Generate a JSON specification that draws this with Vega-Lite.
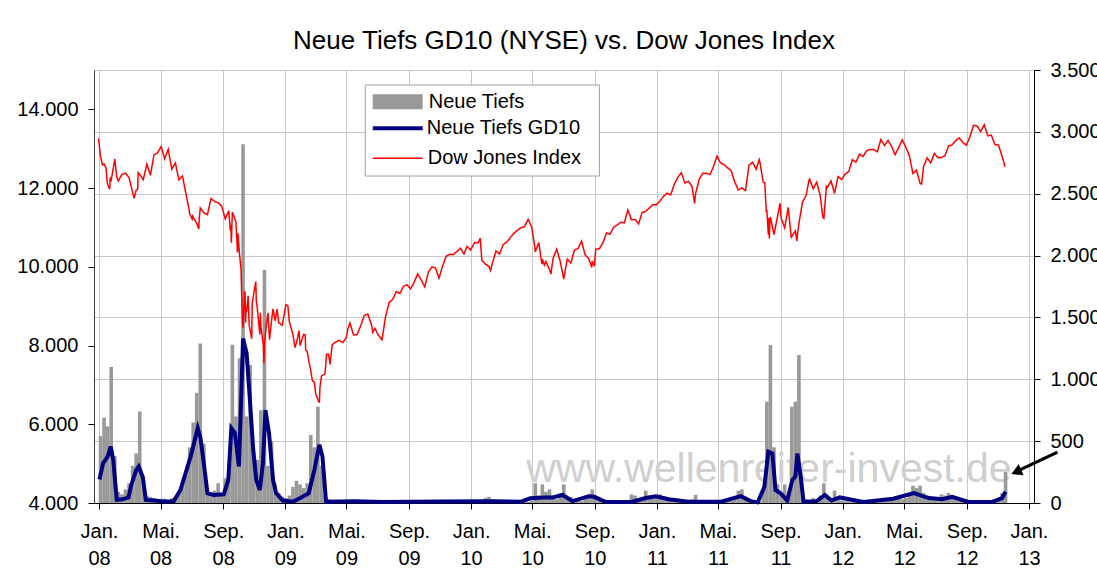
{
  "$schema": "https://vega.github.io/schema/vega-lite/v6.json",
  "width": 940,
  "height": 433,
  "autosize": {"type": "none"},
  "padding": {"left": 94, "top": 70, "right": 63, "bottom": 75},
  "background": "white",
  "title": {"text": "Neue Tiefs GD10 (NYSE) vs. Dow Jones Index", "font": "Liberation Sans", "fontSize": 26, "fontWeight": "normal", "color": "#000000", "offset": 6, "anchor": "middle"},
  "config": {
    "font": "Liberation Sans",
    "view": {"stroke": "#a0a0a0", "strokeWidth": 1},
    "axis": {"labelFont": "Liberation Sans", "labelFontSize": 20, "labelColor": "#000000", "tickColor": "#000000", "domainColor": "#000000", "tickSize": 6, "labelPadding": 10, "gridColor": "#c8c8c8", "gridWidth": 1, "title": null, "labelFlush": false, "labelOverlap": false},
    "legend": {"orient": "none", "title": null, "labelFont": "Liberation Sans", "labelFontSize": 20, "labelColor": "#000000", "labelLimit": 300, "padding": 0, "symbolOpacity": 1, "symbolSize": 400}
  },
  "datasets": {
    "lows": [
      {"date": "2008-01-04", "value": 540}, {"date": "2008-01-11", "value": 690}, {"date": "2008-01-18", "value": 620}, {"date": "2008-01-25", "value": 1100},
      {"date": "2008-02-01", "value": 380}, {"date": "2008-02-08", "value": 90}, {"date": "2008-02-15", "value": 70}, {"date": "2008-02-22", "value": 110}, {"date": "2008-02-29", "value": 160},
      {"date": "2008-03-07", "value": 300}, {"date": "2008-03-14", "value": 400}, {"date": "2008-03-21", "value": 740}, {"date": "2008-03-28", "value": 190},
      {"date": "2008-04-04", "value": 60}, {"date": "2008-04-11", "value": 50}, {"date": "2008-04-18", "value": 40}, {"date": "2008-04-25", "value": 30},
      {"date": "2008-05-02", "value": 25}, {"date": "2008-05-09", "value": 35}, {"date": "2008-05-16", "value": 25}, {"date": "2008-05-23", "value": 40}, {"date": "2008-05-30", "value": 50},
      {"date": "2008-06-06", "value": 90}, {"date": "2008-06-13", "value": 140}, {"date": "2008-06-20", "value": 230}, {"date": "2008-06-27", "value": 450},
      {"date": "2008-07-04", "value": 650}, {"date": "2008-07-11", "value": 890}, {"date": "2008-07-18", "value": 1290}, {"date": "2008-07-25", "value": 480},
      {"date": "2008-08-01", "value": 120}, {"date": "2008-08-08", "value": 80}, {"date": "2008-08-15", "value": 100}, {"date": "2008-08-22", "value": 160}, {"date": "2008-08-29", "value": 80},
      {"date": "2008-09-05", "value": 200}, {"date": "2008-09-12", "value": 320}, {"date": "2008-09-19", "value": 1280}, {"date": "2008-09-26", "value": 700},
      {"date": "2008-10-03", "value": 1170}, {"date": "2008-10-10", "value": 2900}, {"date": "2008-10-17", "value": 700}, {"date": "2008-10-24", "value": 1116}, {"date": "2008-10-31", "value": 400},
      {"date": "2008-11-07", "value": 350}, {"date": "2008-11-14", "value": 750}, {"date": "2008-11-21", "value": 1884}, {"date": "2008-11-28", "value": 300},
      {"date": "2008-12-05", "value": 500}, {"date": "2008-12-12", "value": 150}, {"date": "2008-12-19", "value": 80}, {"date": "2008-12-26", "value": 50},
      {"date": "2009-01-02", "value": 40}, {"date": "2009-01-09", "value": 60}, {"date": "2009-01-16", "value": 130}, {"date": "2009-01-23", "value": 180}, {"date": "2009-01-30", "value": 150},
      {"date": "2009-02-06", "value": 120}, {"date": "2009-02-13", "value": 160}, {"date": "2009-02-20", "value": 550}, {"date": "2009-02-27", "value": 450},
      {"date": "2009-03-06", "value": 780}, {"date": "2009-03-13", "value": 300}, {"date": "2009-03-20", "value": 60}, {"date": "2009-03-27", "value": 30},
      {"date": "2009-04-03", "value": 25}, {"date": "2009-04-10", "value": 20}, {"date": "2009-04-17", "value": 15}, {"date": "2009-04-24", "value": 20},
      {"date": "2009-05-01", "value": 15}, {"date": "2009-05-08", "value": 10}, {"date": "2009-05-15", "value": 20}, {"date": "2009-05-22", "value": 15}, {"date": "2009-05-29", "value": 10},
      {"date": "2009-06-05", "value": 10}, {"date": "2009-06-12", "value": 8}, {"date": "2009-06-19", "value": 12}, {"date": "2009-06-26", "value": 15},
      {"date": "2009-07-03", "value": 15}, {"date": "2009-07-10", "value": 25}, {"date": "2009-07-17", "value": 10}, {"date": "2009-07-24", "value": 8}, {"date": "2009-07-31", "value": 8},
      {"date": "2009-08-07", "value": 8}, {"date": "2009-08-14", "value": 10}, {"date": "2009-08-21", "value": 10}, {"date": "2009-08-28", "value": 8},
      {"date": "2009-09-04", "value": 10}, {"date": "2009-09-11", "value": 8}, {"date": "2009-09-18", "value": 8}, {"date": "2009-09-25", "value": 10},
      {"date": "2009-10-02", "value": 15}, {"date": "2009-10-09", "value": 10}, {"date": "2009-10-16", "value": 8}, {"date": "2009-10-23", "value": 10}, {"date": "2009-10-30", "value": 20},
      {"date": "2009-11-06", "value": 15}, {"date": "2009-11-13", "value": 10}, {"date": "2009-11-20", "value": 10}, {"date": "2009-11-27", "value": 15},
      {"date": "2009-12-04", "value": 15}, {"date": "2009-12-11", "value": 15}, {"date": "2009-12-18", "value": 15}, {"date": "2009-12-25", "value": 12},
      {"date": "2010-01-01", "value": 10}, {"date": "2010-01-08", "value": 10}, {"date": "2010-01-15", "value": 15}, {"date": "2010-01-22", "value": 25}, {"date": "2010-01-29", "value": 40},
      {"date": "2010-02-05", "value": 50}, {"date": "2010-02-12", "value": 30}, {"date": "2010-02-19", "value": 15}, {"date": "2010-02-26", "value": 15},
      {"date": "2010-03-05", "value": 10}, {"date": "2010-03-12", "value": 8}, {"date": "2010-03-19", "value": 8}, {"date": "2010-03-26", "value": 10},
      {"date": "2010-04-02", "value": 10}, {"date": "2010-04-09", "value": 10}, {"date": "2010-04-16", "value": 10}, {"date": "2010-04-23", "value": 10}, {"date": "2010-04-30", "value": 20},
      {"date": "2010-05-07", "value": 160}, {"date": "2010-05-14", "value": 60}, {"date": "2010-05-21", "value": 150}, {"date": "2010-05-28", "value": 90},
      {"date": "2010-06-04", "value": 110}, {"date": "2010-06-11", "value": 60}, {"date": "2010-06-18", "value": 30}, {"date": "2010-06-25", "value": 80},
      {"date": "2010-07-02", "value": 150}, {"date": "2010-07-09", "value": 40}, {"date": "2010-07-16", "value": 50}, {"date": "2010-07-23", "value": 30}, {"date": "2010-07-30", "value": 20},
      {"date": "2010-08-06", "value": 15}, {"date": "2010-08-13", "value": 60}, {"date": "2010-08-20", "value": 70}, {"date": "2010-08-27", "value": 110},
      {"date": "2010-09-03", "value": 40}, {"date": "2010-09-10", "value": 20}, {"date": "2010-09-17", "value": 15}, {"date": "2010-09-24", "value": 10},
      {"date": "2010-10-01", "value": 10}, {"date": "2010-10-08", "value": 10}, {"date": "2010-10-15", "value": 12}, {"date": "2010-10-22", "value": 10}, {"date": "2010-10-29", "value": 15},
      {"date": "2010-11-05", "value": 20}, {"date": "2010-11-12", "value": 70}, {"date": "2010-11-19", "value": 60}, {"date": "2010-11-26", "value": 40},
      {"date": "2010-12-03", "value": 30}, {"date": "2010-12-10", "value": 100}, {"date": "2010-12-17", "value": 60}, {"date": "2010-12-24", "value": 50}, {"date": "2010-12-31", "value": 40},
      {"date": "2011-01-07", "value": 70}, {"date": "2011-01-14", "value": 50}, {"date": "2011-01-21", "value": 40}, {"date": "2011-01-28", "value": 40},
      {"date": "2011-02-04", "value": 30}, {"date": "2011-02-11", "value": 25}, {"date": "2011-02-18", "value": 20}, {"date": "2011-02-25", "value": 20},
      {"date": "2011-03-04", "value": 25}, {"date": "2011-03-11", "value": 30}, {"date": "2011-03-18", "value": 65}, {"date": "2011-03-25", "value": 20},
      {"date": "2011-04-01", "value": 15}, {"date": "2011-04-08", "value": 15}, {"date": "2011-04-15", "value": 20}, {"date": "2011-04-22", "value": 10}, {"date": "2011-04-29", "value": 10},
      {"date": "2011-05-06", "value": 15}, {"date": "2011-05-13", "value": 15}, {"date": "2011-05-20", "value": 20}, {"date": "2011-05-27", "value": 20},
      {"date": "2011-06-03", "value": 40}, {"date": "2011-06-10", "value": 100}, {"date": "2011-06-17", "value": 110}, {"date": "2011-06-24", "value": 50},
      {"date": "2011-07-01", "value": 15}, {"date": "2011-07-08", "value": 10}, {"date": "2011-07-15", "value": 20}, {"date": "2011-07-22", "value": 15}, {"date": "2011-07-29", "value": 100},
      {"date": "2011-08-05", "value": 819}, {"date": "2011-08-12", "value": 1277}, {"date": "2011-08-19", "value": 450}, {"date": "2011-08-26", "value": 150},
      {"date": "2011-09-02", "value": 80}, {"date": "2011-09-09", "value": 150}, {"date": "2011-09-16", "value": 60}, {"date": "2011-09-23", "value": 778}, {"date": "2011-09-30", "value": 819},
      {"date": "2011-10-07", "value": 1196}, {"date": "2011-10-14", "value": 60}, {"date": "2011-10-21", "value": 30}, {"date": "2011-10-28", "value": 20},
      {"date": "2011-11-04", "value": 40}, {"date": "2011-11-11", "value": 30}, {"date": "2011-11-18", "value": 60}, {"date": "2011-11-25", "value": 160},
      {"date": "2011-12-02", "value": 40}, {"date": "2011-12-09", "value": 30}, {"date": "2011-12-16", "value": 100}, {"date": "2011-12-23", "value": 30}, {"date": "2011-12-30", "value": 20},
      {"date": "2012-01-06", "value": 15}, {"date": "2012-01-13", "value": 15}, {"date": "2012-01-20", "value": 10}, {"date": "2012-01-27", "value": 10},
      {"date": "2012-02-03", "value": 8}, {"date": "2012-02-10", "value": 8}, {"date": "2012-02-17", "value": 8}, {"date": "2012-02-24", "value": 8},
      {"date": "2012-03-02", "value": 10}, {"date": "2012-03-09", "value": 15}, {"date": "2012-03-16", "value": 10}, {"date": "2012-03-23", "value": 20}, {"date": "2012-03-30", "value": 25},
      {"date": "2012-04-06", "value": 30}, {"date": "2012-04-13", "value": 50}, {"date": "2012-04-20", "value": 40}, {"date": "2012-04-27", "value": 30},
      {"date": "2012-05-04", "value": 40}, {"date": "2012-05-11", "value": 80}, {"date": "2012-05-18", "value": 140}, {"date": "2012-05-25", "value": 120},
      {"date": "2012-06-01", "value": 140}, {"date": "2012-06-08", "value": 80}, {"date": "2012-06-15", "value": 60}, {"date": "2012-06-22", "value": 50}, {"date": "2012-06-29", "value": 40},
      {"date": "2012-07-06", "value": 40}, {"date": "2012-07-13", "value": 70}, {"date": "2012-07-20", "value": 60}, {"date": "2012-07-27", "value": 80},
      {"date": "2012-08-03", "value": 40}, {"date": "2012-08-10", "value": 30}, {"date": "2012-08-17", "value": 20}, {"date": "2012-08-24", "value": 15}, {"date": "2012-08-31", "value": 15},
      {"date": "2012-09-07", "value": 10}, {"date": "2012-09-14", "value": 8}, {"date": "2012-09-21", "value": 8}, {"date": "2012-09-28", "value": 10},
      {"date": "2012-10-05", "value": 10}, {"date": "2012-10-12", "value": 15}, {"date": "2012-10-19", "value": 15}, {"date": "2012-10-26", "value": 20},
      {"date": "2012-11-02", "value": 25}, {"date": "2012-11-09", "value": 80}, {"date": "2012-11-16", "value": 250}
    ],
    "gd10": [
      {"date": "2008-01-02", "value": 190}, {"date": "2008-01-09", "value": 320}, {"date": "2008-01-18", "value": 375}, {"date": "2008-01-24", "value": 455},
      {"date": "2008-01-29", "value": 350}, {"date": "2008-02-02", "value": 160}, {"date": "2008-02-05", "value": 25}, {"date": "2008-02-16", "value": 30},
      {"date": "2008-02-28", "value": 45}, {"date": "2008-03-04", "value": 140}, {"date": "2008-03-14", "value": 265}, {"date": "2008-03-19", "value": 295},
      {"date": "2008-03-27", "value": 210}, {"date": "2008-04-02", "value": 25}, {"date": "2008-04-18", "value": 20}, {"date": "2008-05-08", "value": 12},
      {"date": "2008-05-27", "value": 15}, {"date": "2008-06-09", "value": 105}, {"date": "2008-06-29", "value": 375}, {"date": "2008-07-13", "value": 605},
      {"date": "2008-07-18", "value": 535}, {"date": "2008-07-25", "value": 320}, {"date": "2008-08-01", "value": 80}, {"date": "2008-08-13", "value": 65},
      {"date": "2008-09-02", "value": 70}, {"date": "2008-09-11", "value": 185}, {"date": "2008-09-17", "value": 605}, {"date": "2008-09-24", "value": 565},
      {"date": "2008-10-02", "value": 295}, {"date": "2008-10-10", "value": 1330}, {"date": "2008-10-17", "value": 1210}, {"date": "2008-10-23", "value": 860},
      {"date": "2008-10-30", "value": 430}, {"date": "2008-11-05", "value": 185}, {"date": "2008-11-12", "value": 105}, {"date": "2008-11-18", "value": 320},
      {"date": "2008-11-23", "value": 750}, {"date": "2008-11-30", "value": 565}, {"date": "2008-12-08", "value": 185}, {"date": "2008-12-14", "value": 80},
      {"date": "2008-12-27", "value": 20}, {"date": "2009-01-16", "value": 10}, {"date": "2009-02-04", "value": 50}, {"date": "2009-02-16", "value": 80},
      {"date": "2009-02-27", "value": 265}, {"date": "2009-03-09", "value": 470}, {"date": "2009-03-15", "value": 375}, {"date": "2009-03-22", "value": 10},
      {"date": "2009-05-18", "value": 15}, {"date": "2009-07-10", "value": 8}, {"date": "2009-11-03", "value": 12}, {"date": "2010-02-08", "value": 15},
      {"date": "2010-04-08", "value": 10}, {"date": "2010-04-27", "value": 38}, {"date": "2010-05-26", "value": 45}, {"date": "2010-06-10", "value": 45},
      {"date": "2010-06-30", "value": 65}, {"date": "2010-07-19", "value": 15}, {"date": "2010-08-21", "value": 55}, {"date": "2010-08-31", "value": 50},
      {"date": "2010-09-23", "value": 8}, {"date": "2010-11-12", "value": 8}, {"date": "2010-12-10", "value": 40}, {"date": "2010-12-30", "value": 55},
      {"date": "2011-01-24", "value": 30}, {"date": "2011-03-04", "value": 10}, {"date": "2011-05-07", "value": 10}, {"date": "2011-06-15", "value": 55},
      {"date": "2011-07-04", "value": 15}, {"date": "2011-07-18", "value": 5}, {"date": "2011-07-31", "value": 130}, {"date": "2011-08-08", "value": 415},
      {"date": "2011-08-16", "value": 400}, {"date": "2011-08-22", "value": 105}, {"date": "2011-09-01", "value": 78}, {"date": "2011-09-14", "value": 20},
      {"date": "2011-09-24", "value": 185}, {"date": "2011-09-30", "value": 215}, {"date": "2011-10-04", "value": 400}, {"date": "2011-10-11", "value": 200},
      {"date": "2011-10-16", "value": 10}, {"date": "2011-11-11", "value": 15}, {"date": "2011-11-27", "value": 65}, {"date": "2011-12-10", "value": 20},
      {"date": "2011-12-26", "value": 45}, {"date": "2012-02-11", "value": 8}, {"date": "2012-04-09", "value": 35}, {"date": "2012-05-20", "value": 80},
      {"date": "2012-06-18", "value": 40}, {"date": "2012-07-15", "value": 30}, {"date": "2012-08-03", "value": 50}, {"date": "2012-09-04", "value": 8},
      {"date": "2012-10-21", "value": 10}, {"date": "2012-11-09", "value": 40}, {"date": "2012-11-16", "value": 92}
    ],
    "dow": [
      {"date": "2007-12-31", "value": 13265}, {"date": "2008-01-02", "value": 13044}, {"date": "2008-01-04", "value": 12800}, {"date": "2008-01-08", "value": 12590},
      {"date": "2008-01-11", "value": 12606}, {"date": "2008-01-15", "value": 12501}, {"date": "2008-01-17", "value": 12159}, {"date": "2008-01-18", "value": 12099},
      {"date": "2008-01-22", "value": 11971}, {"date": "2008-01-23", "value": 12270}, {"date": "2008-01-25", "value": 12207}, {"date": "2008-01-31", "value": 12650},
      {"date": "2008-02-01", "value": 12743}, {"date": "2008-02-05", "value": 12265}, {"date": "2008-02-08", "value": 12182},
      {"date": "2008-02-15", "value": 12348}, {"date": "2008-02-22", "value": 12381}, {"date": "2008-02-29", "value": 12266}, {"date": "2008-03-07", "value": 11894},
      {"date": "2008-03-10", "value": 11740}, {"date": "2008-03-14", "value": 11951}, {"date": "2008-03-17", "value": 11972}, {"date": "2008-03-18", "value": 12392},
      {"date": "2008-03-20", "value": 12361}, {"date": "2008-03-28", "value": 12216},
      {"date": "2008-04-04", "value": 12609}, {"date": "2008-04-11", "value": 12325}, {"date": "2008-04-18", "value": 12849}, {"date": "2008-04-25", "value": 12891},
      {"date": "2008-05-02", "value": 13058}, {"date": "2008-05-09", "value": 12745}, {"date": "2008-05-16", "value": 12986}, {"date": "2008-05-23", "value": 12480},
      {"date": "2008-05-30", "value": 12638}, {"date": "2008-06-06", "value": 12209}, {"date": "2008-06-13", "value": 12307}, {"date": "2008-06-20", "value": 11843},
      {"date": "2008-06-26", "value": 11453}, {"date": "2008-06-27", "value": 11347}, {"date": "2008-07-02", "value": 11215}, {"date": "2008-07-03", "value": 11288},
      {"date": "2008-07-11", "value": 11100}, {"date": "2008-07-15", "value": 10962}, {"date": "2008-07-16", "value": 11239},
      {"date": "2008-07-18", "value": 11496}, {"date": "2008-07-25", "value": 11370}, {"date": "2008-08-01", "value": 11326}, {"date": "2008-08-08", "value": 11734},
      {"date": "2008-08-15", "value": 11659}, {"date": "2008-08-22", "value": 11628}, {"date": "2008-08-29", "value": 11543}, {"date": "2008-09-05", "value": 11220},
      {"date": "2008-09-12", "value": 11421}, {"date": "2008-09-15", "value": 10918}, {"date": "2008-09-16", "value": 11059}, {"date": "2008-09-17", "value": 10609},
      {"date": "2008-09-18", "value": 11020}, {"date": "2008-09-19", "value": 11388}, {"date": "2008-09-26", "value": 11143}, {"date": "2008-09-29", "value": 10365},
      {"date": "2008-09-30", "value": 10851}, {"date": "2008-10-03", "value": 10325}, {"date": "2008-10-06", "value": 9955}, {"date": "2008-10-07", "value": 9447},
      {"date": "2008-10-09", "value": 8579}, {"date": "2008-10-10", "value": 8451}, {"date": "2008-10-13", "value": 9388}, {"date": "2008-10-14", "value": 9311},
      {"date": "2008-10-15", "value": 8578}, {"date": "2008-10-16", "value": 8979}, {"date": "2008-10-17", "value": 8852}, {"date": "2008-10-20", "value": 9266},
      {"date": "2008-10-22", "value": 8519}, {"date": "2008-10-24", "value": 8378}, {"date": "2008-10-27", "value": 8175}, {"date": "2008-10-28", "value": 9065},
      {"date": "2008-10-31", "value": 9325}, {"date": "2008-11-04", "value": 9625}, {"date": "2008-11-05", "value": 9139}, {"date": "2008-11-07", "value": 8943},
      {"date": "2008-11-12", "value": 8283}, {"date": "2008-11-13", "value": 8835}, {"date": "2008-11-14", "value": 8497}, {"date": "2008-11-19", "value": 7997},
      {"date": "2008-11-20", "value": 7552}, {"date": "2008-11-21", "value": 8046}, {"date": "2008-11-24", "value": 8443}, {"date": "2008-11-28", "value": 8829},
      {"date": "2008-12-01", "value": 8149}, {"date": "2008-12-05", "value": 8635}, {"date": "2008-12-08", "value": 8934}, {"date": "2008-12-12", "value": 8629},
      {"date": "2008-12-16", "value": 8924}, {"date": "2008-12-19", "value": 8579}, {"date": "2008-12-26", "value": 8515}, {"date": "2009-01-02", "value": 9034},
      {"date": "2009-01-06", "value": 9015}, {"date": "2009-01-09", "value": 8599}, {"date": "2009-01-16", "value": 8281}, {"date": "2009-01-20", "value": 7950},
      {"date": "2009-01-23", "value": 8077}, {"date": "2009-01-28", "value": 8375}, {"date": "2009-01-30", "value": 8001}, {"date": "2009-02-06", "value": 8280},
      {"date": "2009-02-09", "value": 8270}, {"date": "2009-02-10", "value": 7888}, {"date": "2009-02-13", "value": 7850}, {"date": "2009-02-17", "value": 7553},
      {"date": "2009-02-20", "value": 7366}, {"date": "2009-02-23", "value": 7115}, {"date": "2009-02-27", "value": 7062}, {"date": "2009-03-02", "value": 6763},
      {"date": "2009-03-06", "value": 6627}, {"date": "2009-03-09", "value": 6547}, {"date": "2009-03-10", "value": 6926}, {"date": "2009-03-13", "value": 7224},
      {"date": "2009-03-20", "value": 7279}, {"date": "2009-03-23", "value": 7776}, {"date": "2009-03-27", "value": 7776}, {"date": "2009-03-30", "value": 7523},
      {"date": "2009-04-03", "value": 8018}, {"date": "2009-04-09", "value": 8083}, {"date": "2009-04-17", "value": 8131}, {"date": "2009-04-24", "value": 8076},
      {"date": "2009-05-01", "value": 8212}, {"date": "2009-05-04", "value": 8426}, {"date": "2009-05-08", "value": 8575}, {"date": "2009-05-15", "value": 8268},
      {"date": "2009-05-22", "value": 8277}, {"date": "2009-05-29", "value": 8500}, {"date": "2009-06-05", "value": 8764}, {"date": "2009-06-12", "value": 8799},
      {"date": "2009-06-19", "value": 8540}, {"date": "2009-06-22", "value": 8339}, {"date": "2009-06-26", "value": 8438}, {"date": "2009-07-02", "value": 8280},
      {"date": "2009-07-08", "value": 8178}, {"date": "2009-07-10", "value": 8146}, {"date": "2009-07-17", "value": 8743},
      {"date": "2009-07-24", "value": 9093}, {"date": "2009-07-31", "value": 9172}, {"date": "2009-08-07", "value": 9370}, {"date": "2009-08-14", "value": 9321},
      {"date": "2009-08-21", "value": 9505}, {"date": "2009-08-28", "value": 9544}, {"date": "2009-09-04", "value": 9441}, {"date": "2009-09-11", "value": 9605},
      {"date": "2009-09-18", "value": 9820}, {"date": "2009-09-25", "value": 9665}, {"date": "2009-10-02", "value": 9488}, {"date": "2009-10-09", "value": 9865},
      {"date": "2009-10-16", "value": 9996}, {"date": "2009-10-23", "value": 9972}, {"date": "2009-10-30", "value": 9713}, {"date": "2009-11-06", "value": 10023},
      {"date": "2009-11-13", "value": 10270}, {"date": "2009-11-20", "value": 10319}, {"date": "2009-11-27", "value": 10310}, {"date": "2009-12-04", "value": 10389},
      {"date": "2009-12-11", "value": 10472}, {"date": "2009-12-18", "value": 10329}, {"date": "2009-12-24", "value": 10520}, {"date": "2009-12-31", "value": 10428},
      {"date": "2010-01-08", "value": 10618}, {"date": "2010-01-15", "value": 10610}, {"date": "2010-01-19", "value": 10725}, {"date": "2010-01-22", "value": 10173},
      {"date": "2010-01-29", "value": 10067}, {"date": "2010-02-05", "value": 10012}, {"date": "2010-02-08", "value": 9908}, {"date": "2010-02-12", "value": 10099},
      {"date": "2010-02-19", "value": 10403}, {"date": "2010-02-26", "value": 10325}, {"date": "2010-03-05", "value": 10567}, {"date": "2010-03-12", "value": 10625},
      {"date": "2010-03-19", "value": 10742}, {"date": "2010-03-26", "value": 10851}, {"date": "2010-04-02", "value": 10927}, {"date": "2010-04-09", "value": 10997},
      {"date": "2010-04-16", "value": 11019}, {"date": "2010-04-23", "value": 11205}, {"date": "2010-04-30", "value": 11009}, {"date": "2010-05-06", "value": 10520},
      {"date": "2010-05-07", "value": 10380}, {"date": "2010-05-14", "value": 10620}, {"date": "2010-05-20", "value": 10068}, {"date": "2010-05-21", "value": 10193},
      {"date": "2010-05-25", "value": 10043}, {"date": "2010-05-28", "value": 10137}, {"date": "2010-06-04", "value": 9931}, {"date": "2010-06-07", "value": 9816},
      {"date": "2010-06-08", "value": 9940}, {"date": "2010-06-11", "value": 10211},
      {"date": "2010-06-18", "value": 10450}, {"date": "2010-06-25", "value": 10144}, {"date": "2010-07-02", "value": 9686}, {"date": "2010-07-09", "value": 10198},
      {"date": "2010-07-16", "value": 10097}, {"date": "2010-07-23", "value": 10425}, {"date": "2010-07-30", "value": 10466}, {"date": "2010-08-06", "value": 10654},
      {"date": "2010-08-13", "value": 10303}, {"date": "2010-08-20", "value": 10213}, {"date": "2010-08-26", "value": 9986}, {"date": "2010-08-27", "value": 10150},
      {"date": "2010-08-31", "value": 10015}, {"date": "2010-09-03", "value": 10448}, {"date": "2010-09-10", "value": 10462}, {"date": "2010-09-17", "value": 10608},
      {"date": "2010-09-24", "value": 10861},
      {"date": "2010-10-01", "value": 10830}, {"date": "2010-10-08", "value": 11006}, {"date": "2010-10-15", "value": 11063}, {"date": "2010-10-22", "value": 11133},
      {"date": "2010-10-29", "value": 11118}, {"date": "2010-11-05", "value": 11444}, {"date": "2010-11-12", "value": 11193}, {"date": "2010-11-19", "value": 11204},
      {"date": "2010-11-26", "value": 11092}, {"date": "2010-12-03", "value": 11382}, {"date": "2010-12-10", "value": 11410}, {"date": "2010-12-17", "value": 11492},
      {"date": "2010-12-23", "value": 11573}, {"date": "2010-12-31", "value": 11578}, {"date": "2011-01-07", "value": 11674}, {"date": "2011-01-14", "value": 11787},
      {"date": "2011-01-21", "value": 11872}, {"date": "2011-01-28", "value": 11824}, {"date": "2011-02-04", "value": 12092}, {"date": "2011-02-11", "value": 12273},
      {"date": "2011-02-18", "value": 12391}, {"date": "2011-02-25", "value": 12130}, {"date": "2011-03-04", "value": 12170}, {"date": "2011-03-11", "value": 12044},
      {"date": "2011-03-16", "value": 11613}, {"date": "2011-03-18", "value": 11859}, {"date": "2011-03-25", "value": 12221}, {"date": "2011-04-01", "value": 12377},
      {"date": "2011-04-08", "value": 12380}, {"date": "2011-04-15", "value": 12342}, {"date": "2011-04-21", "value": 12505}, {"date": "2011-04-29", "value": 12811},
      {"date": "2011-05-06", "value": 12638}, {"date": "2011-05-13", "value": 12596}, {"date": "2011-05-20", "value": 12512}, {"date": "2011-05-27", "value": 12441},
      {"date": "2011-06-03", "value": 12151}, {"date": "2011-06-10", "value": 11952}, {"date": "2011-06-17", "value": 12004}, {"date": "2011-06-24", "value": 11934},
      {"date": "2011-07-01", "value": 12582}, {"date": "2011-07-08", "value": 12657}, {"date": "2011-07-15", "value": 12480}, {"date": "2011-07-21", "value": 12724},
      {"date": "2011-07-22", "value": 12681}, {"date": "2011-07-29", "value": 12143}, {"date": "2011-08-01", "value": 12132}, {"date": "2011-08-02", "value": 11867},
      {"date": "2011-08-04", "value": 11384}, {"date": "2011-08-05", "value": 11444}, {"date": "2011-08-08", "value": 10810}, {"date": "2011-08-09", "value": 11240},
      {"date": "2011-08-10", "value": 10720}, {"date": "2011-08-11", "value": 11143}, {"date": "2011-08-12", "value": 11269}, {"date": "2011-08-19", "value": 10817},
      {"date": "2011-08-26", "value": 11285}, {"date": "2011-08-31", "value": 11614},
      {"date": "2011-09-02", "value": 11240}, {"date": "2011-09-09", "value": 10992}, {"date": "2011-09-16", "value": 11509}, {"date": "2011-09-22", "value": 10734},
      {"date": "2011-09-23", "value": 10771}, {"date": "2011-09-30", "value": 10913}, {"date": "2011-10-03", "value": 10655}, {"date": "2011-10-04", "value": 10809},
      {"date": "2011-10-07", "value": 11103}, {"date": "2011-10-14", "value": 11644},
      {"date": "2011-10-21", "value": 11809}, {"date": "2011-10-27", "value": 12209}, {"date": "2011-10-28", "value": 12231}, {"date": "2011-11-04", "value": 11983},
      {"date": "2011-11-11", "value": 12153}, {"date": "2011-11-18", "value": 11796}, {"date": "2011-11-23", "value": 11258}, {"date": "2011-11-25", "value": 11231},
      {"date": "2011-11-30", "value": 12046}, {"date": "2011-12-02", "value": 12019},
      {"date": "2011-12-09", "value": 12184}, {"date": "2011-12-16", "value": 11867}, {"date": "2011-12-23", "value": 12294}, {"date": "2011-12-30", "value": 12218},
      {"date": "2012-01-06", "value": 12360}, {"date": "2012-01-13", "value": 12422}, {"date": "2012-01-20", "value": 12720}, {"date": "2012-01-27", "value": 12660},
      {"date": "2012-02-03", "value": 12862}, {"date": "2012-02-10", "value": 12801}, {"date": "2012-02-17", "value": 12950}, {"date": "2012-02-24", "value": 12983},
      {"date": "2012-03-02", "value": 12978}, {"date": "2012-03-09", "value": 12922}, {"date": "2012-03-16", "value": 13233}, {"date": "2012-03-23", "value": 13081},
      {"date": "2012-03-30", "value": 13212}, {"date": "2012-04-06", "value": 13060}, {"date": "2012-04-13", "value": 12850}, {"date": "2012-04-20", "value": 13029},
      {"date": "2012-04-27", "value": 13228}, {"date": "2012-05-04", "value": 13038}, {"date": "2012-05-11", "value": 12821}, {"date": "2012-05-18", "value": 12369},
      {"date": "2012-05-25", "value": 12454}, {"date": "2012-06-01", "value": 12119}, {"date": "2012-06-04", "value": 12101}, {"date": "2012-06-08", "value": 12554},
      {"date": "2012-06-15", "value": 12767}, {"date": "2012-06-22", "value": 12640}, {"date": "2012-06-29", "value": 12880}, {"date": "2012-07-06", "value": 12772},
      {"date": "2012-07-13", "value": 12777}, {"date": "2012-07-20", "value": 12822}, {"date": "2012-07-27", "value": 13075}, {"date": "2012-08-03", "value": 13096},
      {"date": "2012-08-10", "value": 13207}, {"date": "2012-08-17", "value": 13275}, {"date": "2012-08-24", "value": 13158}, {"date": "2012-08-31", "value": 13090},
      {"date": "2012-09-07", "value": 13306}, {"date": "2012-09-14", "value": 13593}, {"date": "2012-09-21", "value": 13579}, {"date": "2012-09-28", "value": 13437},
      {"date": "2012-10-05", "value": 13610}, {"date": "2012-10-12", "value": 13329}, {"date": "2012-10-19", "value": 13344}, {"date": "2012-10-26", "value": 13107},
      {"date": "2012-11-02", "value": 13093}, {"date": "2012-11-09", "value": 12815}, {"date": "2012-11-15", "value": 12542}
    ]
  },
  "layer": [
    {
      "layer": [
        {
          "data": {"values": [{}]},
          "mark": {"type": "rect", "fill": "#ffffff", "stroke": "#a0a0a0", "strokeWidth": 1},
          "encoding": {
            "x": {"datum": {"year": 2009, "month": 6, "date": 7, "utc": true}, "type": "temporal"},
            "x2": {"datum": {"year": 2010, "month": 9, "date": 10, "utc": true}},
            "y": {"datum": 3379, "type": "quantitative"},
            "y2": {"datum": 2643}
          }
        },
        {
          "data": {"values": [{"label": "www.wellenreiter-invest.de"}]},
          "mark": {"type": "text", "font": "Liberation Sans", "fontSize": 41, "color": "#cfcfcf", "align": "center", "baseline": "middle"},
          "encoding": {
            "x": {"datum": {"year": 2011, "month": 8, "date": 9, "utc": true}, "type": "temporal"},
            "y": {"datum": 267, "type": "quantitative"},
            "text": {"field": "label"}
          }
        },
        {
          "data": {"name": "lows"},
          "mark": {"type": "bar", "width": 3.6},
          "encoding": {
            "x": {"field": "date", "type": "temporal",
              "scale": {"type": "utc", "domain": [{"year": 2008, "month": 1, "date": 1, "utc": true}, {"year": 2013, "month": 1, "date": 1, "utc": true}], "nice": false},
              "axis": {"values": [
                {"year": 2008, "month": 1, "date": 1, "utc": true}, {"year": 2008, "month": 5, "date": 1, "utc": true}, {"year": 2008, "month": 9, "date": 1, "utc": true},
                {"year": 2009, "month": 1, "date": 1, "utc": true}, {"year": 2009, "month": 5, "date": 1, "utc": true}, {"year": 2009, "month": 9, "date": 1, "utc": true},
                {"year": 2010, "month": 1, "date": 1, "utc": true}, {"year": 2010, "month": 5, "date": 1, "utc": true}, {"year": 2010, "month": 9, "date": 1, "utc": true},
                {"year": 2011, "month": 1, "date": 1, "utc": true}, {"year": 2011, "month": 5, "date": 1, "utc": true}, {"year": 2011, "month": 9, "date": 1, "utc": true},
                {"year": 2012, "month": 1, "date": 1, "utc": true}, {"year": 2012, "month": 5, "date": 1, "utc": true}, {"year": 2012, "month": 9, "date": 1, "utc": true},
                {"year": 2013, "month": 1, "date": 1, "utc": true}],
                "labelExpr": "[utcmonth(datum.value) == 0 ? 'Jan.' : (utcmonth(datum.value) == 4 ? 'Mai.' : 'Sep.'), utcFormat(datum.value, '%y')]",
                "labelLineHeight": 27, "labelPadding": 12, "grid": true, "orient": "bottom"}},
            "y": {"field": "value", "type": "quantitative",
              "scale": {"domain": [0, 3500], "nice": false, "zero": true},
              "axis": {"orient": "right", "values": [0, 500, 1000, 1500, 2000, 2500, 3000, 3500], "grid": true,
                "labelExpr": "replace(format(datum.value, ',d'), ',', '.')"}},
            "fill": {"datum": "Neue Tiefs", "type": "nominal", "scale": {"range": ["#999999"]},
              "legend": {"legendX": 278.7, "legendY": 21.7, "symbolType": "M-1,-0.75H4V0.75H-1Z", "symbolStrokeWidth": 0, "symbolStrokeColor": "transparent", "symbolOffset": 0, "labelOffset": 36}}
          }
        },
        {
          "data": {"name": "gd10"},
          "mark": {"type": "line", "strokeWidth": 4},
          "encoding": {
            "x": {"field": "date", "type": "temporal"},
            "y": {"field": "value", "type": "quantitative"},
            "stroke": {"datum": "Neue Tiefs GD10", "type": "nominal", "scale": {"range": ["#000080"]},
              "legend": {"legendX": 278.7, "legendY": 46.3, "symbolType": "M-1,0H4", "symbolStrokeWidth": 4, "symbolOffset": -2, "labelOffset": 32}}
          }
        },
        {
          "data": {"values": [{}]},
          "mark": {"type": "rule", "color": "#000000", "strokeWidth": 3},
          "encoding": {
            "x": {"datum": {"year": 2013, "month": 2, "date": 26, "utc": true}, "type": "temporal"},
            "x2": {"datum": {"year": 2012, "month": 12, "date": 6, "utc": true}},
            "y": {"datum": 412, "type": "quantitative"},
            "y2": {"datum": 252}
          }
        },
        {
          "data": {"values": [{}]},
          "mark": {"type": "point", "shape": "triangle-left", "filled": true, "color": "#000000", "opacity": 1, "size": 150, "angle": 336},
          "encoding": {
            "x": {"datum": {"year": 2012, "month": 12, "date": 7, "utc": true}, "type": "temporal"},
            "y": {"datum": 252, "type": "quantitative"}
          }
        }
      ]
    },
    {
      "data": {"name": "dow"},
      "mark": {"type": "line", "color": "#ff0000", "strokeWidth": 1.5},
      "encoding": {
        "x": {"field": "date", "type": "temporal"},
        "y": {"field": "value", "type": "quantitative",
          "scale": {"domain": [4000, 15000], "nice": false, "zero": false},
          "axis": {"orient": "left", "values": [4000, 6000, 8000, 10000, 12000, 14000], "grid": false, "domainColor": "#404040",
            "labelExpr": "replace(format(datum.value, ',d'), ',', '.')"}},
        "strokeDash": {"datum": "Dow Jones Index", "type": "nominal", "scale": {"range": [[1, 0]]},
          "legend": {"legendX": 278.7, "legendY": 77.3, "symbolType": "M-1,0H4", "symbolStrokeWidth": 1.5, "symbolStrokeColor": "#ff0000", "symbolOffset": -1, "labelOffset": 34}}
      }
    }
  ],
  "resolve": {"scale": {"y": "independent"}}
}
